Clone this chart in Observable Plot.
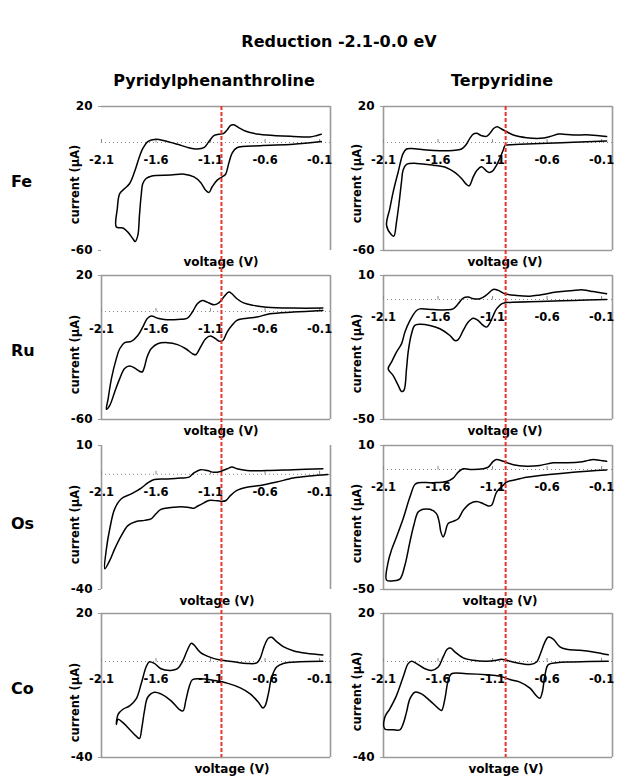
<!DOCTYPE html>
<html><head><meta charset="utf-8">
<script src="https://cdn.jsdelivr.net/npm/d3@7"></script>
<script src="https://cdn.jsdelivr.net/npm/@observablehq/plot@0.6"></script>
<style>
body{margin:0;background:#fff;}
#fig{position:relative;width:618px;height:778px;font-family:"DejaVu Sans",Verdana,sans-serif;font-weight:bold;color:#000;overflow:hidden;background:#fff;}
.lbl{position:absolute;font-size:16px;line-height:16px;white-space:nowrap;}
.panel{position:absolute;}
.panel svg{display:block;max-width:none;}
</style></head><body><div id="fig"></div><script>
// ---------------- data ----------------
const title = "Reduction -2.1-0.0 eV";
const ligands = ["Pyridylphenanthroline", "Terpyridine"];
const metals = ["Fe", "Ru", "Os", "Co"];
const voltTicks = [-2.1, -1.6, -1.1, -0.6, -0.1];
const voltDomain = [-2.1, 0];
const redLineV = [-1.0, -0.98];
const currentRanges = [[[-60, 20], [-60, 20]], [[-60, 20], [-50, 10]], [[-40, 10], [-50, 10]], [[-40, 20], [-40, 20]]];

// [voltage (V), current (µA)] along each cyclic voltammogram
const fePyphen = [[-0.085,0.5],[-0.342,-1.0],[-0.645,-1.8],[-0.858,-2.9],[-0.903,-6.0],[-0.933,-11.6],[-0.964,-17.8],[-0.994,-19.1],[-1.039,-20.9],[-1.085,-24.6],[-1.115,-27.8],[-1.145,-26.5],[-1.191,-22.2],[-1.252,-19.1],[-1.342,-17.6],[-1.464,-18.1],[-1.645,-18.7],[-1.691,-20.0],[-1.721,-22.8],[-1.736,-29.3],[-1.752,-40.5],[-1.767,-51.6],[-1.791,-55.0],[-1.812,-53.5],[-1.858,-49.8],[-1.903,-47.5],[-1.964,-47.0],[-1.955,-36.7],[-1.933,-28.4],[-1.888,-25.6],[-1.842,-22.8],[-1.797,-16.3],[-1.752,-7.9],[-1.721,-3.3],[-1.676,0.5],[-1.6,1.8],[-1.524,1.0],[-1.403,-1.0],[-1.312,-2.7],[-1.221,-3.6],[-1.161,-2.9],[-1.115,0.5],[-1.070,3.8],[-1.024,4.6],[-0.979,5.1],[-0.948,7.0],[-0.918,9.4],[-0.888,9.8],[-0.842,8.3],[-0.782,6.4],[-0.706,5.1],[-0.585,4.2],[-0.342,3.4],[-0.191,3.1],[-0.130,3.8],[-0.085,4.6]];
const feTerpy = [[-0.054,0.8],[-0.360,0.1],[-0.666,-0.6],[-0.849,-1.0],[-0.972,-1.4],[-0.987,-1.8],[-1.002,-4.2],[-1.033,-8.8],[-1.063,-12.6],[-1.100,-15.9],[-1.131,-16.6],[-1.155,-15.9],[-1.201,-13.5],[-1.241,-15.3],[-1.277,-19.1],[-1.314,-24.1],[-1.339,-23.3],[-1.384,-20.0],[-1.446,-16.6],[-1.522,-14.0],[-1.644,-12.6],[-1.797,-11.6],[-1.889,-12.2],[-1.920,-15.3],[-1.935,-21.9],[-1.956,-33.0],[-1.981,-44.2],[-2.005,-52.0],[-2.027,-51.2],[-2.072,-46.0],[-2.042,-36.7],[-2.011,-27.4],[-1.965,-16.3],[-1.920,-6.0],[-1.889,-3.6],[-1.843,-3.3],[-1.706,-4.2],[-1.583,-4.6],[-1.461,-4.4],[-1.384,-3.6],[-1.345,-1.4],[-1.308,2.3],[-1.277,4.6],[-1.247,5.1],[-1.201,3.8],[-1.155,3.4],[-1.124,5.1],[-1.088,7.9],[-1.057,8.8],[-1.017,7.5],[-0.972,6.0],[-0.910,4.2],[-0.788,2.7],[-0.666,2.3],[-0.574,3.3],[-0.498,4.7],[-0.452,4.6],[-0.360,4.2],[-0.207,4.2],[-0.054,3.3]];
const ruPyphen = [[-0.070,0.6],[-0.342,-0.3],[-0.555,-1.3],[-0.676,-3.1],[-0.767,-3.7],[-0.858,-4.9],[-0.903,-7.7],[-0.948,-11.4],[-0.985,-16.0],[-1.015,-16.6],[-1.055,-15.1],[-1.100,-13.6],[-1.145,-15.1],[-1.191,-19.7],[-1.236,-24.0],[-1.267,-23.4],[-1.327,-20.7],[-1.403,-18.4],[-1.494,-17.3],[-1.585,-17.9],[-1.645,-20.7],[-1.682,-25.3],[-1.706,-30.8],[-1.727,-33.6],[-1.752,-33.2],[-1.797,-31.4],[-1.842,-30.3],[-1.888,-31.7],[-1.933,-37.3],[-1.979,-44.7],[-2.024,-52.1],[-2.055,-54.3],[-2.039,-48.4],[-2.009,-37.3],[-1.964,-26.2],[-1.933,-20.7],[-1.888,-17.3],[-1.827,-16.6],[-1.767,-13.3],[-1.721,-8.6],[-1.682,-4.0],[-1.645,-2.5],[-1.585,-3.7],[-1.524,-4.4],[-1.403,-4.4],[-1.312,-3.7],[-1.267,-0.3],[-1.221,4.3],[-1.176,6.1],[-1.130,5.2],[-1.070,3.7],[-1.024,4.8],[-0.979,8.0],[-0.933,10.8],[-0.903,9.8],[-0.858,7.1],[-0.797,4.8],[-0.706,3.4],[-0.585,2.4],[-0.342,1.9],[-0.070,1.9]];
const ruTerpy = [[-0.054,0.0],[-0.360,-0.4],[-0.666,-0.8],[-0.910,-1.1],[-0.987,-1.4],[-1.017,-1.8],[-1.063,-3.9],[-1.094,-6.7],[-1.124,-9.7],[-1.155,-11.5],[-1.186,-10.8],[-1.231,-8.8],[-1.277,-7.8],[-1.323,-9.4],[-1.369,-12.9],[-1.415,-16.7],[-1.446,-17.1],[-1.491,-15.0],[-1.583,-12.2],[-1.675,-10.8],[-1.767,-10.3],[-1.813,-10.8],[-1.843,-14.3],[-1.874,-21.9],[-1.889,-28.9],[-1.913,-37.9],[-1.935,-38.3],[-1.965,-35.8],[-2.011,-31.7],[-2.057,-28.9],[-2.027,-26.1],[-1.981,-21.9],[-1.935,-18.5],[-1.904,-13.6],[-1.858,-8.8],[-1.797,-4.6],[-1.767,-3.9],[-1.644,-4.2],[-1.522,-4.3],[-1.461,-3.9],[-1.415,-1.8],[-1.369,0.6],[-1.323,1.0],[-1.277,0.3],[-1.216,0.3],[-1.155,1.9],[-1.094,4.2],[-1.048,3.8],[-0.987,2.4],[-0.880,1.7],[-0.757,1.4],[-0.666,1.9],[-0.513,3.1],[-0.360,3.8],[-0.268,4.0],[-0.176,3.3],[-0.054,2.4]];
const osPyphen = [[-0.024,-0.1],[-0.191,-0.6],[-0.342,-1.3],[-0.494,-2.7],[-0.645,-3.9],[-0.767,-4.5],[-0.858,-5.6],[-0.918,-7.4],[-0.958,-9.1],[-0.994,-9.4],[-1.039,-9.2],[-1.115,-9.1],[-1.161,-9.9],[-1.221,-11.1],[-1.252,-11.8],[-1.312,-11.4],[-1.433,-11.4],[-1.555,-12.2],[-1.600,-13.7],[-1.645,-15.5],[-1.706,-16.0],[-1.782,-16.4],[-1.858,-17.8],[-1.918,-21.3],[-1.979,-25.9],[-2.024,-29.9],[-2.070,-32.8],[-2.055,-25.9],[-2.024,-18.9],[-1.979,-12.0],[-1.918,-8.5],[-1.827,-6.8],[-1.736,-4.8],[-1.676,-3.0],[-1.615,-1.8],[-1.494,-1.6],[-1.373,-1.3],[-1.297,-1.0],[-1.252,0.5],[-1.191,1.6],[-1.130,1.3],[-1.070,0.7],[-1.009,1.0],[-0.948,1.9],[-0.903,2.5],[-0.858,1.9],[-0.767,1.3],[-0.585,1.3],[-0.342,1.6],[-0.070,1.9]];
const osTerpy = [[-0.054,-0.2],[-0.360,-1.1],[-0.666,-2.5],[-0.788,-3.2],[-0.910,-4.5],[-0.972,-5.2],[-1.002,-6.6],[-1.063,-9.4],[-1.109,-14.9],[-1.140,-15.2],[-1.186,-14.2],[-1.247,-13.3],[-1.308,-14.2],[-1.369,-17.0],[-1.415,-20.5],[-1.461,-21.6],[-1.507,-22.5],[-1.537,-26.7],[-1.553,-28.1],[-1.574,-26.0],[-1.589,-21.9],[-1.614,-18.4],[-1.675,-16.6],[-1.736,-16.6],[-1.782,-17.7],[-1.822,-23.2],[-1.858,-30.2],[-1.904,-39.9],[-1.950,-45.7],[-2.011,-46.4],[-2.072,-46.1],[-2.057,-38.5],[-2.027,-33.6],[-1.981,-28.1],[-1.920,-20.5],[-1.858,-11.5],[-1.813,-6.3],[-1.782,-5.5],[-1.644,-5.5],[-1.522,-5.0],[-1.461,-3.6],[-1.415,-1.1],[-1.369,0.3],[-1.308,0.0],[-1.186,0.3],[-1.140,1.0],[-1.094,3.4],[-1.063,4.2],[-1.002,3.4],[-0.910,2.0],[-0.788,1.4],[-0.666,1.7],[-0.543,2.8],[-0.421,2.8],[-0.299,3.1],[-0.222,3.8],[-0.176,4.2],[-0.115,3.8],[-0.054,3.4]];
const coPyphen = [[-0.070,0.1],[-0.282,-0.1],[-0.433,-0.8],[-0.494,-2.3],[-0.539,-6.5],[-0.570,-13.5],[-0.600,-18.5],[-0.621,-19.4],[-0.661,-17.0],[-0.736,-13.5],[-0.827,-11.0],[-0.948,-9.0],[-1.070,-7.9],[-1.191,-7.2],[-1.267,-7.6],[-1.297,-10.7],[-1.327,-16.3],[-1.352,-20.6],[-1.388,-19.9],[-1.464,-16.3],[-1.555,-13.5],[-1.615,-12.8],[-1.676,-14.9],[-1.706,-20.6],[-1.730,-27.6],[-1.752,-32.1],[-1.782,-31.1],[-1.842,-28.3],[-1.903,-25.5],[-1.948,-24.1],[-1.964,-26.2],[-1.948,-22.0],[-1.903,-19.9],[-1.842,-18.5],[-1.782,-15.6],[-1.736,-9.3],[-1.691,-2.3],[-1.661,-0.1],[-1.615,-0.8],[-1.555,-3.0],[-1.464,-3.7],[-1.403,-3.0],[-1.358,-0.1],[-1.312,4.8],[-1.276,7.6],[-1.252,6.9],[-1.191,3.7],[-1.100,1.7],[-1.009,0.6],[-0.888,-0.1],[-0.767,-0.8],[-0.676,-0.6],[-0.645,1.3],[-0.609,6.2],[-0.570,9.7],[-0.539,10.1],[-0.494,8.3],[-0.433,6.2],[-0.342,4.5],[-0.221,3.4],[-0.070,2.7]];
const coTerpy = [[-0.039,0.1],[-0.360,-0.2],[-0.513,-0.5],[-0.589,-1.3],[-0.620,-5.8],[-0.644,-12.8],[-0.666,-15.3],[-0.696,-14.4],[-0.757,-11.1],[-0.849,-8.6],[-0.941,-7.5],[-1.033,-6.1],[-1.155,-5.5],[-1.339,-5.1],[-1.476,-5.1],[-1.507,-7.9],[-1.537,-15.6],[-1.568,-20.4],[-1.598,-19.5],[-1.675,-16.3],[-1.751,-13.5],[-1.813,-12.8],[-1.858,-15.6],[-1.889,-21.1],[-1.920,-26.0],[-1.950,-28.5],[-2.011,-28.4],[-2.088,-28.1],[-2.088,-23.2],[-2.042,-19.7],[-1.981,-14.2],[-1.920,-6.5],[-1.874,-0.9],[-1.843,0.1],[-1.797,-0.9],[-1.721,-3.0],[-1.660,-3.7],[-1.598,-2.3],[-1.553,1.9],[-1.516,5.1],[-1.485,5.6],[-1.446,4.0],[-1.369,1.5],[-1.277,0.5],[-1.155,0.1],[-1.063,0.5],[-1.017,0.9],[-0.972,0.5],[-0.880,-0.5],[-0.757,-1.2],[-0.696,-0.2],[-0.666,2.6],[-0.620,8.1],[-0.589,10.2],[-0.543,9.3],[-0.482,6.1],[-0.421,5.1],[-0.299,4.7],[-0.176,4.0],[-0.039,2.8]];
const curves = [[fePyphen, feTerpy], [ruPyphen, ruTerpy], [osPyphen, osTerpy], [coPyphen, coTerpy]];

// ---------------- layout ----------------
const fig = document.getElementById("fig");
const colLeft = [51, 333];
const rowFrameTop = [106, 275, 445, 613];
const frameH = 144, mT = 12, mB = 24, mL = 50, mR = 6, frameW = 229;
const frameSides = [[["top","right"], ["top","right","bottom","left"]],
                    [["top","right","bottom","left"], ["top","right","bottom","left"]],
                    [["left","right"], ["top","right","bottom","left"]],
                    [["top","right","bottom","left"], ["top","right","bottom","left"]]];
const xLabelDx = [[5, 7], [5, 7], [1, 2], [16, 8]];
const yLabelDy = [[6, 5], [7, 6], [7, 6], [17, 6]];
const gray = "#9a9a9a";
const tickUp = {draw(ctx) { ctx.moveTo(0, 0); ctx.lineTo(0, -3.5); }};

function addLabel(text, left, top, size, center) {
  const d = document.createElement("div");
  d.className = "lbl";
  d.textContent = text;
  d.style.left = left + "px";
  d.style.top = top + "px";
  d.style.fontSize = size + "px";
  d.style.lineHeight = size + "px";
  if (center) d.style.transform = "translateX(-50%)";
  fig.appendChild(d);
}
addLabel(title, 339, 34, 16, true);
addLabel(ligands[0], 214, 73, 16, true);
addLabel(ligands[1], 502, 73, 16, true);
const rowLabelTop = [174, 343, 516, 681];
metals.forEach((m, r) => addLabel(m, 11, rowLabelTop[r], 16, false));

for (let r = 0; r < 4; r++) {
  for (let c = 0; c < 2; c++) {
    const [ymin, ymax] = currentRanges[r][c];
    const sides = frameSides[r][c];
    const marks = [];
    if (sides.includes("top")) marks.push(Plot.ruleY([ymax], {stroke: gray, strokeWidth: 1.6}));
    if (sides.includes("bottom")) marks.push(Plot.ruleY([ymin], {stroke: gray, strokeWidth: 1.6}));
    if (sides.includes("left")) marks.push(Plot.ruleX([voltDomain[0]], {stroke: gray, strokeWidth: 1.6}));
    if (sides.includes("right")) marks.push(Plot.ruleX([voltDomain[1]], {stroke: gray, strokeWidth: 1.6}));
    marks.push(
      Plot.ruleY([0], {stroke: "#888", strokeWidth: 1, strokeDasharray: "1,3"}),
      Plot.dot(voltTicks, {x: d => d, y: () => 0, symbol: tickUp, stroke: "#888", strokeWidth: 1, fill: "none"}),
      Plot.axisY({ticks: [ymin, ymax], tickFormat: d => String(d), tickSize: 3, tickPadding: 6, fontSize: 12, fontWeight: "bold", stroke: gray, fill: "black", label: null}),
      Plot.text(voltTicks, {x: d => d, y: () => 0, text: d => String(d), dy: 18, fontSize: 11.5, fontWeight: "bold", fill: "black"}),
      Plot.text(["current (µA)"], {frameAnchor: "left", textAnchor: "middle", text: d => d, rotate: -90, dx: -26, dy: yLabelDy[r][c], fontSize: 11.5, fontWeight: "bold", fill: "black"}),
      Plot.text(["voltage (V)"], {frameAnchor: "bottom", text: d => d, dy: 15, dx: xLabelDx[r][c], fontSize: 12, fontWeight: "bold", fill: "black"}),
      Plot.line(curves[r][c], {x: d => d[0], y: d => d[1], curve: "catmull-rom", stroke: "black", strokeWidth: 1.5})
    );
    const p = Plot.plot({
      width: mL + frameW + mR, height: mT + frameH + mB,
      marginLeft: mL, marginRight: mR, marginTop: mT, marginBottom: mB,
      x: {domain: voltDomain, axis: null},
      y: {domain: [ymin, ymax], axis: null},
      style: {fontFamily: "DejaVu Sans, Verdana, sans-serif", background: "transparent", overflow: "visible", color: "black"},
      marks
    });
    const div = document.createElement("div");
    div.className = "panel";
    div.style.left = colLeft[c] + "px";
    div.style.top = (rowFrameTop[r] - mT) + "px";
    div.appendChild(p);
    fig.appendChild(div);
  }
}

// red dashed reference line spanning each column
const redTop = 106, redBottom = 757;
for (let c = 0; c < 2; c++) {
  const p = Plot.plot({
    width: mL + frameW + mR, height: redBottom - redTop,
    marginLeft: mL, marginRight: mR, marginTop: 0, marginBottom: 0,
    x: {domain: voltDomain, axis: null},
    style: {background: "transparent", overflow: "visible"},
    marks: [Plot.ruleX([redLineV[c]], {stroke: "#e8352b", strokeWidth: 2, strokeDasharray: "4,2"})]
  });
  const div = document.createElement("div");
  div.className = "panel";
  div.style.left = colLeft[c] + "px";
  div.style.top = redTop + "px";
  div.style.zIndex = 5;
  div.appendChild(p);
  fig.appendChild(div);
}
</script></body></html>
